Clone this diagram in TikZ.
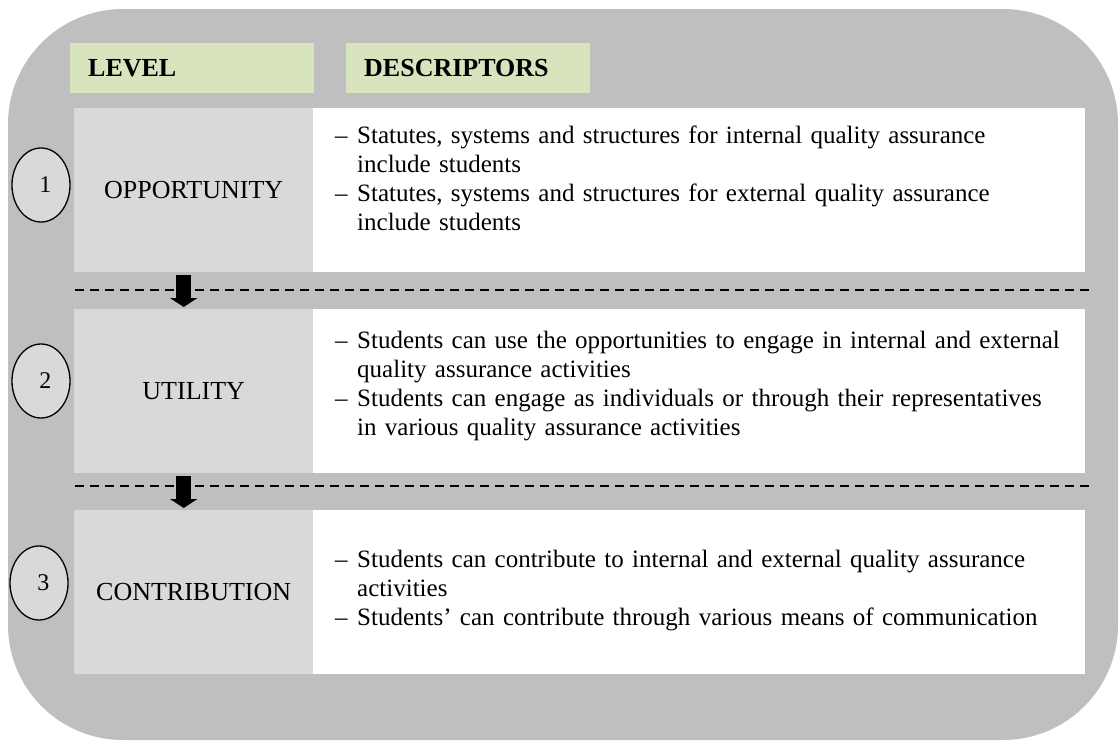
\documentclass[tikz,border=0pt]{standalone}
\usepackage{fontspec}
\setmainfont{Liberation Serif}
\usetikzlibrary{shapes.geometric}
\usetikzlibrary{arrows.meta}

\definecolor{framegrey}{HTML}{BFBFBF}
\definecolor{cellgrey}{HTML}{D9D9D9}
\definecolor{headgreen}{HTML}{D7E4BD}

\newcommand{\descitem}[1]{\par\hangindent=22pt\hangafter=1\noindent\makebox[22pt][l]{--}#1\par}

\tikzset{
    headbox/.style={rectangle,fill=headgreen,anchor=north west,minimum height=50pt,text width=208pt,inner xsep=18pt,align=left,font=\fontsize{26}{30}\selectfont\bfseries},
    levelcell/.style={rectangle,fill=cellgrey,anchor=north west,minimum width=239pt,minimum height=164pt,font=\fontsize{26}{30}\selectfont},
    desccell/.style={rectangle,fill=white,anchor=north west,minimum width=772pt,minimum height=164pt,inner sep=0pt},
    desctext/.style={anchor=west,text width=740pt,align=left,inner sep=0pt,font=\fontsize{25}{29}\selectfont},
    numcircle/.style={ellipse,draw,line width=1.3pt,fill=cellgrey,minimum width=58pt,minimum height=74pt,inner sep=0pt,font=\fontsize{24}{28}\selectfont},
    sepline/.style={dash pattern=on 9pt off 6pt,line width=1.1pt},
    flowarrow/.style={-{Triangle[width=27pt,length=9pt]},line width=15pt}
}

\begin{document}
\begin{tikzpicture}[x=1pt,y=-1pt]
    \useasboundingbox (0,0) rectangle (1120,744);
    \fill[framegrey,rounded corners=115pt] (8,9) rectangle (1118,740);
    % separators between the levels
    \draw[sepline] (75,290) -- (1092,290);
    \draw[sepline] (75,486) -- (1092,486);
    % headers
    \node at (70,43) [headbox] (levelhead) {LEVEL};
    \node at (346,43) [headbox] (deschead) {DESCRIPTORS};
    % rows
    \node at (74,108) [levelcell] (opp) {OPPORTUNITY};
    \node at (313,108) [desccell] (oppcell) {};
    \node at (74,309) [levelcell] (uti) {UTILITY};
    \node at (313,309) [desccell] (uticell) {};
    \node at (74,510) [levelcell] (con) {CONTRIBUTION};
    \node at (313,510) [desccell] (concell) {};
    \node at (335,173) [desctext] (opptext) {%
        \descitem{Statutes, systems and structures for internal quality assurance\newline include students}
        \descitem{Statutes, systems and structures for external quality assurance\newline include students}};
    \node at (335,380) [desctext] (utitext) {%
        \descitem{Students can use the opportunities to engage in internal and external\newline quality assurance activities}
        \descitem{Students can engage as individuals or through their representatives\newline in various quality assurance activities}};
    \node at (335,585) [desctext] (context) {%
        \descitem{Students can contribute to internal and external quality assurance\newline activities}
        \descitem{Students' can contribute through various means of communication}};
    % arrows from level to level
    \draw[flowarrow,shorten <=3pt,shorten >=2pt] ([xshift=-10pt]opp.south) -- ([xshift=-10pt]uti.north);
    \draw[flowarrow,shorten <=3pt,shorten >=2pt] ([xshift=-10pt]uti.south) -- ([xshift=-10pt]con.north);
    % level numbers
    \node at (41,185) [numcircle] (num1) {\hspace*{9pt}1};
    \node at (41,381) [numcircle] (num2) {\hspace*{9pt}2};
    \node at (39,583) [numcircle] (num3) {\hspace*{9pt}3};
\end{tikzpicture}
\end{document}
